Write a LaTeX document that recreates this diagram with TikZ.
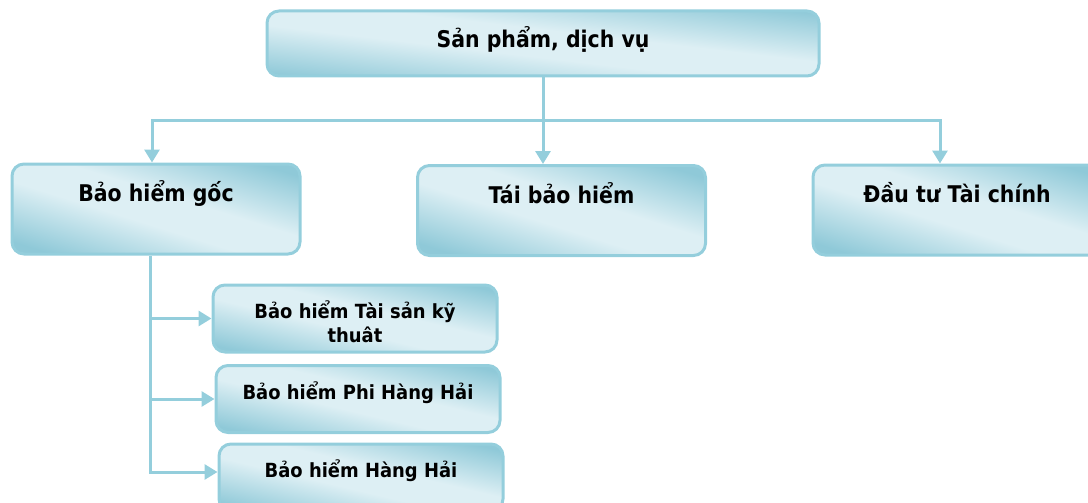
\documentclass[tikz,border=0pt]{standalone}
\usepackage{fontspec}
\setmainfont{DejaVu Sans}
\newfontfamily\bigfont{DejaVu Sans}[FakeStretch=0.89]
\newfontfamily\subfont{DejaVu Sans}[FakeStretch=0.92]
\usetikzlibrary{arrows.meta, positioning, calc}

\definecolor{aqualine}{HTML}{94CEDC}
\definecolor{aquadark}{HTML}{8FC9D8}
\definecolor{aqualight}{HTML}{DDEFF4}

\pgfdeclareverticalshading{aquaglass}{100bp}{color(0bp)=(aquadark); color(23bp)=(aquadark);
  color(44bp)=(aqualight); color(56bp)=(aqualight); color(77bp)=(aquadark); color(100bp)=(aquadark)}

\tikzset{
  box/.style={draw=aqualine, line width=3pt, rounded corners=12pt,
    shading=aquaglass, inner sep=0pt},
  bigbox/.style={box, minimum width=288pt, minimum height=90pt, shading angle=-17.4},
  subbox/.style={box, minimum width=284pt, minimum height=67pt, shading angle=-13.3},
  lbl/.style={font=\bigfont\bfseries\fontsize{23}{27}\selectfont, anchor=base, align=center, inner sep=0pt},
  sublbl/.style={lbl, font=\subfont\bfseries\fontsize{19.5}{24}\selectfont},
  link/.style={draw=aqualine, line width=3pt},
  arr/.style={link, -{Triangle[width=15pt,length=13pt]}}
}

\begin{document}
\begin{tikzpicture}[x=1pt, y=1pt]
    \useasboundingbox (0,0) rectangle (1088,-503);

    % boxes
    \node[box, minimum width=552pt, minimum height=65pt, shading angle=-6.7] (top) at (543,-43.5) {};
    \node[bigbox] (goc) at (156,-209) {};
    \node[bigbox] (tai) at (561.5,-210.5) {};
    \node[bigbox] (dautu) at (957,-210) {};
    \node[subbox] (sub1) at (355,-318.5) {};
    \node[subbox] (sub2) at (358,-399) {};
    \node[subbox] (sub3) at (361,-477.5) {};

    % texts
    \node[lbl] (topText) at ([yshift=-38pt]top.north) {Sản phẩm, dịch vụ};
    \node[lbl] (gocText) at ([yshift=-38.5pt]goc.north) {Bảo hiểm gốc};
    \node[lbl] (taiText) at ([yshift=-39pt]tai.north) {Tái bảo hiểm};
    \node[lbl] (dautuText) at ([yshift=-38.5pt]dautu.north) {Đầu tư Tài chính};
    \node[sublbl, anchor=center] (sub1Text) at ([yshift=-38pt]sub1.north) {Bảo hiểm Tài sản kỹ\\thuât};
    \node[sublbl] (sub2Text) at ([yshift=-35pt]sub2.north) {Bảo hiểm Phi Hàng Hải};
    \node[sublbl] (sub3Text) at ([yshift=-34.5pt]sub3.north) {Bảo hiểm Hàng Hải};

    % connectors
    \coordinate (split) at (543,-120);
    \coordinate (jl) at (152,-120);
    \coordinate (jr) at (940,-120);
    \coordinate (sp) at (150,-472);

    \draw[link] (top.south) -- (split);
    \draw[arr] (split) -- (jl) -- (jl |- goc.north);
    \draw[arr] (split) -- (jr) -- (jr |- dautu.north);
    \draw[arr] (split) -- (split |- tai.north);

    \draw[arr] (sp |- goc.south) -- (sp) -- (sp -| sub3.west);
    \foreach \s in {sub1,sub2}
    \draw[arr] (sp |- \s.west) -- (\s.west);
\end{tikzpicture}
\end{document}
